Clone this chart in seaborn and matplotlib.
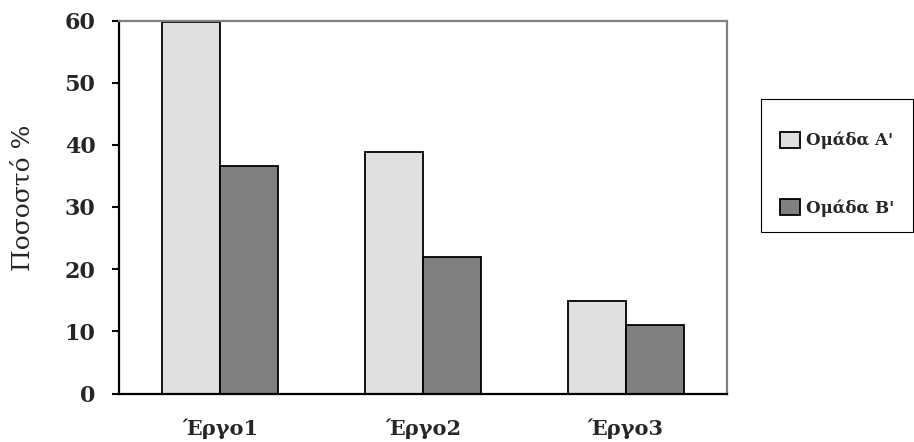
import matplotlib
matplotlib.use("Agg")
import matplotlib.pyplot as plt
import pandas as pd
import seaborn as sns
from matplotlib.patches import Patch, Rectangle

categories = ["Έργο1", "Έργο2", "Έργο3"]
group_a = [59.8, 38.8, 14.9]
group_b = [36.6, 21.9, 11.0]
series_names = ["Ομάδα Α'", "Ομάδα Β'"]
colors = ["#e0e0e0", "#808080"]
y_ticks = [0, 10, 20, 30, 40, 50, 60]

df = pd.DataFrame({
    "Έργο": categories * 2,
    "Ποσοστό": group_a + group_b,
    "Ομάδα": [series_names[0]] * len(categories) + [series_names[1]] * len(categories),
})

sns.set_theme(style="white")
plt.rcParams["font.family"] = ["DejaVu Serif"]

fig = plt.figure(figsize=(9.14, 4.42), dpi=100)
ax = fig.add_axes([119 / 914, 1 - 393.5 / 442, 608 / 914, 373 / 442])

sns.barplot(data=df, x="Έργο", y="Ποσοστό", hue="Ομάδα", palette=colors,
            width=0.573, edgecolor="black", linewidth=1.3, ax=ax,
            legend=False, saturation=1)

ax.set_xlim(-0.5, 2.5)
ax.set_ylim(0, 60)
ax.set_yticks(y_ticks)
ax.set_yticklabels([str(t) for t in y_ticks], fontsize=16, fontweight="bold")
ax.set_xticks(range(len(categories)))
ax.set_xticklabels(categories, fontsize=15, fontweight="bold")
ax.tick_params(axis="y", direction="out", length=5, width=1.5, color="black", pad=12, left=True)
ax.tick_params(axis="x", length=0, pad=18)
ax.set_xlabel("")
ax.set_ylabel("")

for side in ["left", "bottom"]:
    ax.spines[side].set_color("black")
    ax.spines[side].set_linewidth(1.6)
for side in ["top", "right"]:
    ax.spines[side].set_color("#808080")
    ax.spines[side].set_linewidth(1.6)

fig.text(23 / 914, 1 - 197.5 / 442, "Ποσοστό %", rotation=90, ha="center", va="center",
         fontsize=18)

# legend box
fig.patches.append(Rectangle((761 / 914, 1 - 232 / 442), 152 / 914, 133 / 442,
                             transform=fig.transFigure, fill=False,
                             edgecolor="black", linewidth=0.8))

handles = [Patch(facecolor=c, edgecolor="black", linewidth=1.3) for c in colors]
leg = fig.legend(handles, series_names, loc="upper left",
                 bbox_to_anchor=(780 / 914, 1 - 131.5 / 442),
                 prop={"size": 12, "weight": "bold"}, frameon=False,
                 handlelength=1.2, handleheight=1.15, handletextpad=0.35,
                 labelspacing=2.97, borderpad=0, borderaxespad=0)

fig.savefig("out.png", dpi=100, facecolor="white")
